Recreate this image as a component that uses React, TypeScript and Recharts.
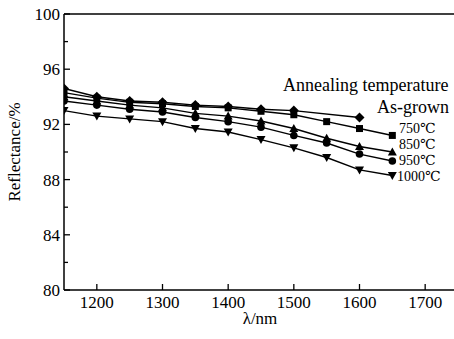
import React from 'react';
import { LineChart, Line, XAxis, YAxis, ReferenceLine } from 'recharts';

// wavelength (nm)
const wavelengths = [1150, 1200, 1250, 1300, 1350, 1400, 1450, 1500, 1550, 1600, 1650];

// reflectance (%) per annealing temperature
const asGrown = [94.6, 94.0, 93.7, 93.6, 93.4, 93.3, 93.1, 93.0, null, 92.5, null];
const t750 = [94.3, 93.9, 93.6, 93.5, 93.3, 93.2, 92.95, 92.7, 92.2, 91.7, 91.2];
const t850 = [94.0, 93.7, 93.4, 93.2, 92.8, 92.6, 92.25, 91.7, 91.0, 90.4, 90.0];
const t950 = [93.7, 93.4, 93.1, 92.9, 92.5, 92.2, 91.8, 91.2, 90.65, 89.85, 89.35];
const t1000 = [93.0, 92.6, 92.4, 92.2, 91.7, 91.45, 90.9, 90.3, 89.6, 88.7, 88.3];

const xTicks = [1200, 1250, 1300, 1350, 1400, 1450, 1500, 1550, 1600, 1650, 1700];
const yTicks = [80, 82, 84, 86, 88, 90, 92, 94, 96, 98, 100];

const FONT = "'Liberation Serif', 'DejaVu Serif', serif";

const data = wavelengths.map((w, i) => ({
  w,
  asGrown: asGrown[i],
  t750: t750[i],
  t850: t850[i],
  t950: t950[i],
  t1000: t1000[i],
}));

const Marker = ({ cx, cy, kind }: any) => {
  if (cx == null || cy == null || isNaN(cy)) return null;
  switch (kind) {
    case 'diamond':
      return <polygon points={`${cx},${cy - 5} ${cx + 5},${cy} ${cx},${cy + 5} ${cx - 5},${cy}`} fill="#000" />;
    case 'square':
      return <rect x={cx - 3.5} y={cy - 3.5} width={7} height={7} fill="#000" />;
    case 'up':
      return <polygon points={`${cx},${cy - 4.5} ${cx + 4.5},${cy + 3.5} ${cx - 4.5},${cy + 3.5}`} fill="#000" />;
    case 'down':
      return <polygon points={`${cx},${cy + 4.5} ${cx + 4.5},${cy - 3.5} ${cx - 4.5},${cy - 3.5}`} fill="#000" />;
    default:
      return <circle cx={cx} cy={cy} r={3.8} fill="#000" />;
  }
};

const dotOf = (kind: string) => (p: any) => <Marker key={`${kind}-${p.index}`} {...p} kind={kind} />;

const txt = { fontFamily: FONT, fontSize: 17, fill: '#000' };

const XTick = ({ x, y, payload }: any) => {
  const major = payload.value % 100 === 0;
  return (
    <g>
      <line x1={x} y1={y} x2={x} y2={y - (major ? 6 : 3)} stroke="#000" strokeWidth={1.3} />
      {major && (
        <text x={x} y={y + 18} textAnchor="middle" style={txt}>
          {payload.value}
        </text>
      )}
    </g>
  );
};

const YTick = ({ x, y, payload }: any) => {
  const major = payload.value % 4 === 0;
  return (
    <g>
      <line x1={x} y1={y} x2={x + (major ? 6 : 4)} y2={y} stroke="#000" strokeWidth={1.3} />
      {major && (
        <text x={x - 4} y={y + 6} textAnchor="end" style={txt}>
          {payload.value}
        </text>
      )}
    </g>
  );
};

const series = [
  { key: 'asGrown', kind: 'diamond' },
  { key: 't750', kind: 'square' },
  { key: 't850', kind: 'up' },
  { key: 't950', kind: 'circle' },
  { key: 't1000', kind: 'down' },
];

export default function App() {
  return (
    <div style={{ position: 'absolute', left: 0, top: 0, width: 454, height: 339, overflow: 'hidden', background: '#fff' }}>
      <LineChart width={458} height={339} data={data} margin={{ top: 14, right: 0, bottom: 0, left: 0 }}>
        <XAxis
          dataKey="w"
          type="number"
          domain={[1150, 1750]}
          ticks={xTicks}
          height={49}
          tickSize={0}
          tickMargin={0}
          tickLine={false}
          tick={<XTick />}
          stroke="#000"
          strokeWidth={1.5}
          allowDataOverflow
        />
        <YAxis
          type="number"
          domain={[80, 100]}
          ticks={yTicks}
          width={64}
          tickSize={0}
          tickMargin={0}
          tickLine={false}
          tick={<YTick />}
          stroke="#000"
          strokeWidth={1.5}
          interval={0}
        />
        <ReferenceLine y={100} stroke="#000" strokeWidth={1.5} />
        {series.map(s => (
          <Line
            key={s.key}
            dataKey={s.key}
            stroke="#000"
            strokeWidth={1.4}
            dot={dotOf(s.kind)}
            activeDot={false}
            connectNulls
            isAnimationActive={false}
          />
        ))}
      </LineChart>
      <svg width={454} height={339} style={{ position: 'absolute', left: 0, top: 0, pointerEvents: 'none' }}>
        <text x={283} y={91} style={{ ...txt, fontSize: 18 }}>Annealing temperature</text>
        <text x={377} y={113} style={{ ...txt, fontSize: 18 }}>As-grown</text>
        <g style={{ ...txt, fontSize: 14 }}>
          <text x={399} y={133}>750℃</text>
          <text x={399} y={149}>850℃</text>
          <text x={399} y={165}>950℃</text>
          <text x={397} y={181}>1000℃</text>
        </g>
        <text x={260} y={324} textAnchor="middle" style={txt}>λ/nm</text>
        <text x={20} y={152} textAnchor="middle" style={txt} transform="rotate(-90 20 152)">
          Reflectance/%
        </text>
      </svg>
    </div>
  );
}
